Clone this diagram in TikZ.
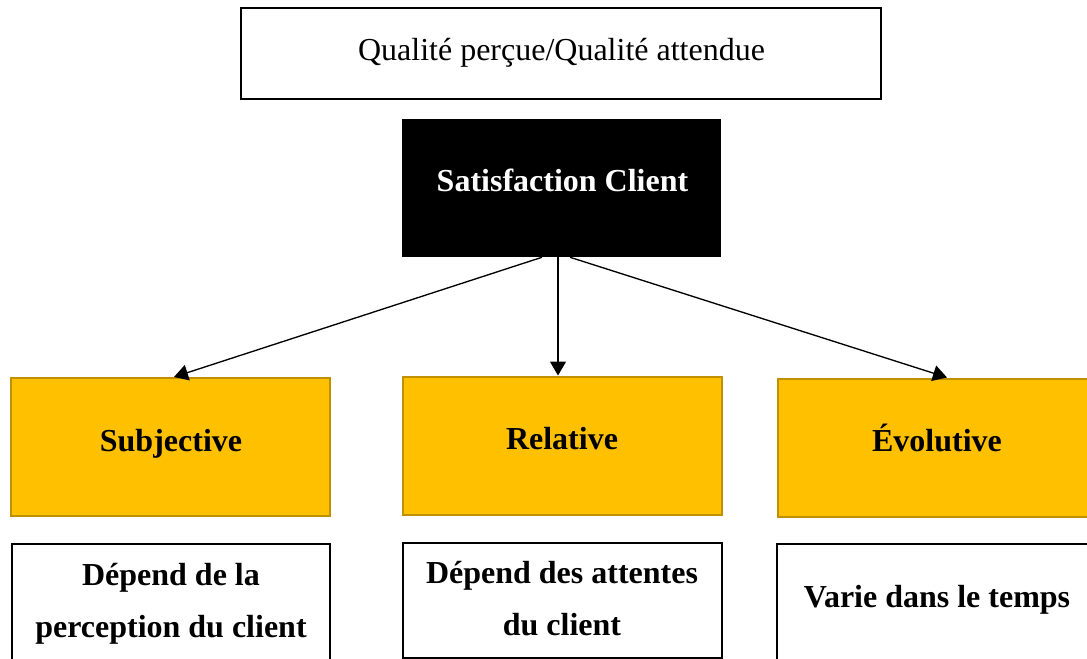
\documentclass[tikz,border=0pt]{standalone}
\usepackage{fontspec}
\setmainfont{Liberation Serif}
\usetikzlibrary{arrows.meta,calc}
\definecolor{gold}{RGB}{255,192,0}
\definecolor{golddark}{RGB}{191,144,0}
\begin{document}
\begin{tikzpicture}[x=0.75pt,y=-0.75pt,
  frame/.style={draw=black,line width=1.5pt,fill=white,inner sep=0pt},
  goldbox/.style={draw=golddark,line width=1.5pt,fill=gold,inner sep=0pt,
    minimum width=239.25pt,minimum height=103.5pt},
  headbox/.style={fill=black,inner sep=0pt},
  txt/.style={inner sep=0pt,anchor=base,align=center,
    font=\fontsize{24}{38.5}\selectfont\bfseries},
  plaintxt/.style={inner sep=0pt,anchor=base,font=\fontsize{24}{29}\selectfont},
  link/.style={line width=1pt,-{Triangle[length=10.5pt,width=12pt]}}
]
\useasboundingbox (0,0) rectangle (1087,659);

% boxes
\node[frame,minimum width=480pt,minimum height=68.25pt] (top) at (561,54) {};
\node[headbox,minimum width=239.25pt,minimum height=103.5pt] (sat) at (561.5,188) {};
\node[goldbox] (g1) at (170.5,447) {};
\node[goldbox] (g2) at (562.5,445.5) {};
\node[goldbox] (g3) at (937,447.5) {};
\node[frame,minimum width=238.5pt,minimum height=96pt] (b1) at (171,608) {};
\node[frame,minimum width=239.25pt,minimum height=86.25pt] (b2) at (562.5,600.5) {};
\node[frame,minimum width=240pt,minimum height=96pt] (b3) at (937,608) {};

% texts (two-line nodes are placed by the baseline of their last line)
\node[plaintxt] (ttop) at (561.5,61) {Qualité perçue/Qualité attendue};
\node[txt,text=white] (tsat) at (562.5,192) {Satisfaction Client};
\node[txt] (tg1) at (171,451) {Subjective};
\node[txt] (tg2) at (562,449) {Relative};
\node[txt] (tg3) at (937,451) {Évolutive};
\node[txt] (tb1) at (171,637) {Dépend de la\\perception du client};
\node[txt] (tb2) at (562,635) {Dépend des attentes\\du client};
\node[txt] (tb3) at (937,607) {Varie dans le temps};

% connectors
\draw[link] ($(sat.south)+(-19.5,0)$) -- ($(g1.north)+(3.5,0)$);
\draw[link] ($(sat.south)+(-3.5,0)$) -- ($(g2.north)+(-4.5,0)$);
\draw[link] ($(sat.south)+(8.5,0)$) -- ($(g3.north)+(10,0)$);
\end{tikzpicture}
\end{document}
